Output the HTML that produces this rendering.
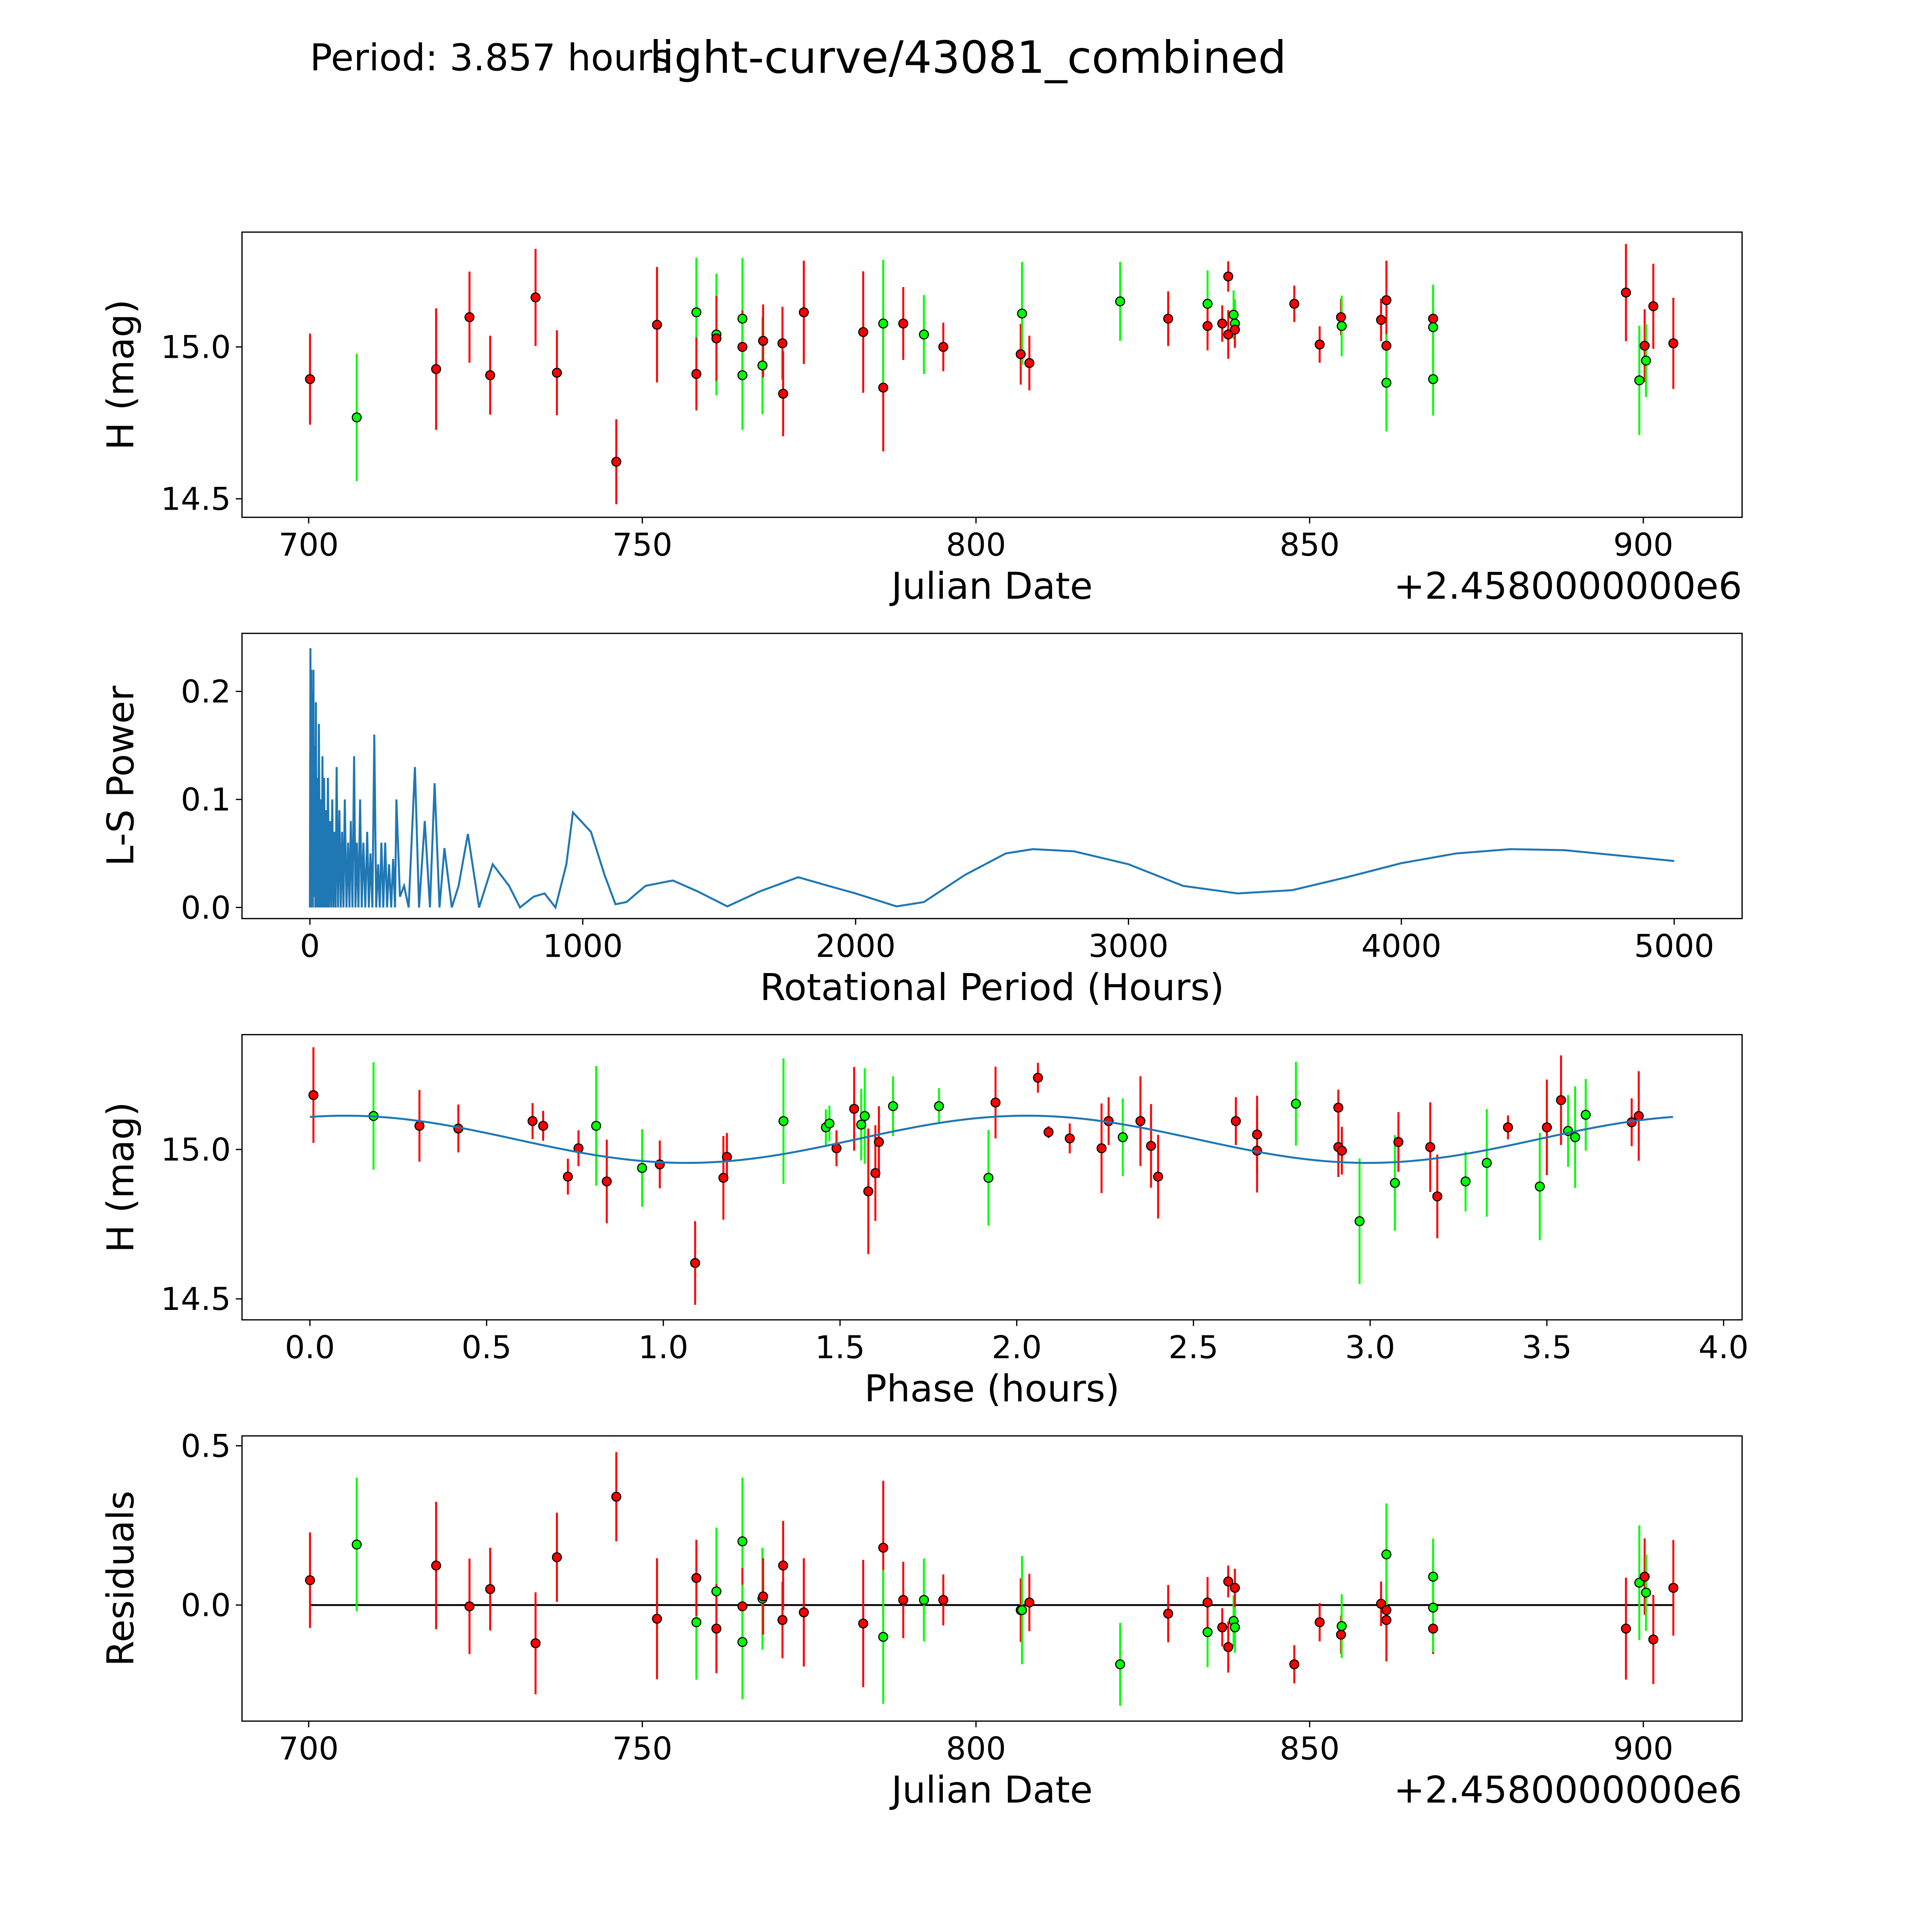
<!DOCTYPE html>
<html><head><meta charset="utf-8"><style>
html,body{margin:0;padding:0;background:#fff;overflow:hidden;width:5400px;height:5400px}
svg{display:block}
text{font-family:"DejaVu Sans","Liberation Sans",sans-serif;fill:#000}
</style></head><body>
<svg id="fig" xmlns="http://www.w3.org/2000/svg" width="5400" height="5400" viewBox="0 0 1690 1690">
<rect width="1690" height="1690" fill="#fff"/>
<text x="251" y="57" font-size="30">Period: 3.857 hours</text>
<text x="784" y="59" font-size="36" text-anchor="middle">light-curve/43081_combined</text>
</svg>
<script>
// ---- Panel 1 / 4 data (Julian date offset from 2458000) ----
const dates=[700.2,707.2,719.1,724.1,727.2,734.0,737.2,746.1,752.2,758.1,758.1,761.1,761.1,765.0,765.0,765.0,768.0,768.1,771.0,771.1,774.2,783.1,786.1,786.1,789.1,792.2,795.1,806.7,806.9,808.0,821.6,828.8,834.7,834.7,836.9,837.8,837.8,838.6,838.8,838.8,847.7,851.5,854.7,854.8,860.7,861.5,861.5,861.5,868.5,868.5,868.5,897.4,899.4,900.2,900.4,901.5,904.5];
const mags=[14.894,14.768,14.927,15.098,14.907,15.163,14.915,14.622,15.073,15.114,14.911,15.041,15.028,15.093,15.0,14.907,14.939,15.02,15.012,14.846,15.114,15.049,14.866,15.077,15.077,15.041,15.0,14.976,15.11,14.947,15.15,15.093,15.142,15.069,15.077,15.232,15.041,15.106,15.077,15.057,15.142,15.008,15.098,15.069,15.089,15.154,15.004,14.882,15.093,15.065,14.894,15.179,14.89,15.004,14.955,15.134,15.012];
const errs=[0.15,0.21,0.2,0.15,0.13,0.16,0.14,0.14,0.19,0.18,0.12,0.2,0.14,0.2,0.12,0.18,0.16,0.12,0.12,0.14,0.17,0.2,0.21,0.21,0.12,0.13,0.08,0.1,0.17,0.09,0.13,0.09,0.11,0.08,0.06,0.05,0.08,0.08,0.08,0.06,0.06,0.06,0.06,0.1,0.07,0.13,0.08,0.16,0.08,0.14,0.12,0.16,0.18,0.12,0.12,0.14,0.15];
const colors=["r","g","r","r","r","r","r","r","r","g","r","g","r","g","r","g","g","r","r","r","r","r","r","g","r","g","r","r","g","r","g","r","g","r","r","r","r","g","g","r","r","r","r","g","r","r","r","g","r","g","g","r","g","r","g","r","r"];
const residuals=[0.078,0.19,0.124,-0.004,0.05,-0.12,0.15,0.34,-0.043,-0.054,0.085,0.043,-0.074,0.2,-0.004,-0.116,0.02,0.027,-0.047,0.124,-0.023,-0.058,0.18,-0.1,0.016,0.016,0.016,-0.016,-0.016,0.008,-0.186,-0.027,-0.085,0.008,-0.07,0.074,-0.132,-0.05,-0.07,0.054,-0.186,-0.054,-0.093,-0.066,0.004,-0.047,-0.016,0.159,-0.074,-0.008,0.089,-0.074,0.07,0.089,0.039,-0.108,0.054];
// ---- Panel 3 (phased) ----
const phases=[0.01,0.18,0.31,0.42,0.63,0.66,0.73,0.76,0.81,0.84,0.94,0.99,1.09,1.17,1.18,1.34,1.46,1.47,1.49,1.54,1.56,1.57,1.58,1.60,1.61,1.65,1.78,1.92,1.94,2.06,2.09,2.15,2.24,2.26,2.30,2.35,2.38,2.40,2.62,2.68,2.68,2.79,2.91,2.91,2.92,2.97,3.07,3.08,3.17,3.19,3.27,3.33,3.39,3.48,3.50,3.54,3.56,3.58,3.61,3.74,3.76];
const phaseMags=[15.182,15.112,15.079,15.07,15.095,15.079,14.909,15.004,15.079,14.893,14.938,14.95,14.62,14.905,14.975,15.095,15.074,15.087,15.004,15.136,15.083,15.112,14.86,14.921,15.025,15.145,15.145,14.905,15.157,15.24,15.058,15.037,15.004,15.095,15.041,15.095,15.012,14.909,15.095,15.05,14.996,15.153,15.14,15.008,14.996,14.76,14.888,15.025,15.008,14.843,14.893,14.955,15.074,14.876,15.074,15.165,15.062,15.041,15.116,15.091,15.112];
const phaseErrs=[0.16,0.18,0.12,0.08,0.06,0.05,0.06,0.06,0.2,0.14,0.13,0.08,0.14,0.14,0.08,0.21,0.06,0.06,0.06,0.14,0.12,0.16,0.21,0.16,0.12,0.1,0.06,0.16,0.12,0.05,0.02,0.05,0.15,0.08,0.13,0.15,0.14,0.14,0.08,0.13,0.14,0.14,0.06,0.1,0.08,0.21,0.16,0.1,0.15,0.14,0.1,0.18,0.04,0.18,0.16,0.15,0.12,0.17,0.12,0.08,0.15];
const phaseColors=["r","g","r","r","r","r","r","r","g","r","g","r","r","r","r","g","g","g","r","r","g","g","r","r","r","g","g","g","r","r","r","r","r","r","g","r","r","r","r","r","r","g","r","r","r","g","g","r","r","r","g","g","r","g","r","r","g","g","g","r","r"];
// ---- Panel 2 (periodogram) ----
const lsPeriods=[0,2,3.5,5,7,9,11,13,15.5,18,20,22,25,28,30.5,33,36.5,40,43,46,49,52,56,60,63,66,70,74,78,82,86,90,94,98,103,108,113,118,123,128,134,140,145,150,156,162,167,172,178,184,190,196,203,210,216,222,229,236,243,250,256,262,269,276,283,290,298,305,312,317,330,345,362,385,400,421,440,457,475,493,520,545,579,620,670,730,770,820,860,900,940,964,1030,1080,1120,1160,1230,1330,1420,1530,1650,1790,1900,2000,2150,2250,2400,2550,2650,2800,3000,3200,3400,3600,3800,4000,4200,4400,4600,4800,5000];
const lsPowers=[0,0.24,0,0.22,0.01,0.2,0,0.22,0.01,0.15,0,0.19,0,0.12,0,0.17,0,0.1,0,0.14,0,0.12,0,0.09,0,0.12,0,0.08,0,0.1,0,0.07,0,0.13,0,0.09,0,0.07,0,0.1,0,0.06,0,0.08,0,0.14,0,0.06,0,0.1,0,0.06,0,0.07,0,0.05,0,0.16,0,0.04,0,0.06,0,0.06,0,0.04,0,0.045,0,0.1,0.01,0.02,0,0.13,0,0.08,0,0.115,0,0.055,0,0.02,0.068,0,0.04,0.02,0,0.01,0.013,0,0.04,0.088,0.07,0.03,0.003,0.005,0.02,0.025,0.015,0.001,0.015,0.028,0.02,0.013,0.001,0.005,0.03,0.05,0.054,0.052,0.04,0.02,0.013,0.016,0.028,0.041,0.05,0.054,0.053,0.048,0.043];
// model params
const modelMean=[15.034], modelAmp=[0.079], modelPeak=[0.1], modelPer=[1.9285], phaseMax=[3.857];

const svg=document.getElementById('fig');
const NS='http://www.w3.org/2000/svg';
function mk(tag,attrs,parent){const e=document.createElementNS(NS,tag);for(const k in attrs)e.setAttribute(k,attrs[k]);(parent||svg).appendChild(e);return e;}
const COL={r:'#ff0000',g:'#00ff00'};

function axes(name,L,T,R,B,xs,ys,xticks,yticks,xfmt,yfmt,xlabel,ylabel,offset){
  const g=mk('g',{});
  
  
  const fr=mk('rect',{x:L,y:T,width:R-L,height:B-T,fill:'none',stroke:'#000','stroke-width':1},g);
  
  
  xticks.forEach(v=>{const x=xs(v);mk('line',{x1:x,x2:x,y1:B,y2:B+5,stroke:'#000','stroke-width':1},g);
    const t=mk('text',{x:x,y:B+31,'font-size':25.5,'text-anchor':'middle'},g);t.textContent=xfmt(v);
    
    });
  yticks.forEach(v=>{const y=ys(v);mk('line',{x1:L-5,x2:L,y1:y,y2:y,stroke:'#000','stroke-width':1},g);
    const t=mk('text',{x:L-9,y:y+9,'font-size':25.5,'text-anchor':'end'},g);t.textContent=yfmt(v);
    
    });
  const xl=mk('text',{x:(L+R)/2,y:B+66,'font-size':30,'text-anchor':'middle'},g);xl.textContent=xlabel;
  
  
  const yl=mk('text',{x:0,y:0,'font-size':30,'text-anchor':'middle',transform:`translate(${L-88},${(T+B)/2}) rotate(-90)`},g);yl.textContent=ylabel;
  
  
  if(offset){const o=mk('text',{x:R,y:B+66,'font-size':30,'text-anchor':'end'},g);o.textContent=offset;
    
    }
  return g;
}
function errpts(g,xsArr,ysArr,es,cs,xs,ys,prefix){
  xsArr.forEach((xv,i)=>{const x=xs(xv);
    const l=mk('line',{x1:x,x2:x,y1:ys(ysArr[i]-es[i]),y2:ys(ysArr[i]+es[i]),stroke:COL[cs[i]],'stroke-width':1.6},g);
    
    });
  xsArr.forEach((xv,i)=>{
    const c=mk('circle',{cx:xs(xv),cy:ys(ysArr[i]),r:3.6,fill:COL[cs[i]],stroke:'#000','stroke-width':0.9},g);
    
    });
}
const fmt1=v=>v.toFixed(1), fmt0=v=>String(v);
const jdX=v=>250+(v-700)*1081/200;

// Panel 1
{const ys=v=>281-(v-15)*246;
 const g=axes('light-curve-panel',196,188,1411,419,jdX,ys,[700,750,800,850,900],[14.5,15.0],fmt0,fmt1,'Julian Date','H (mag)','+2.4580000000e6');
 errpts(g,dates,mags,errs,colors,jdX,ys,'lc');}
// Panel 2
{const xs=v=>251+v*1105/5000, ys=v=>735-v*875;
 const g=axes('periodogram-panel',196,513,1411,744,xs,ys,[0,1000,2000,3000,4000,5000],[0,0.1,0.2],fmt0,fmt1,'Rotational Period (Hours)','L-S Power');
 const d=lsPeriods.map((p,i)=>(i?'L':'M')+xs(p).toFixed(2)+','+ys(lsPowers[i]).toFixed(2)).join(' ');
 const p=mk('path',{d:d,fill:'none',stroke:'#1f77b4','stroke-width':1.6},g);
 
 }
// Panel 3
{const xs=v=>251+v*286.25, ys=v=>931-(v-15)*242;
 const g=axes('phased-panel',196,838,1411,1069,xs,ys,[0,0.5,1,1.5,2,2.5,3,3.5,4],[14.5,15.0],fmt1,fmt1,'Phase (hours)','H (mag)');
 errpts(g,phases,phaseMags,phaseErrs,phaseColors,xs,ys,'phase');
 let d='';for(let i=0;i<=300;i++){const ph=phaseMax[0]*i/300;const m=modelMean[0]+modelAmp[0]*Math.cos(2*Math.PI*(ph-modelPeak[0])/modelPer[0]);d+=(i?'L':'M')+xs(ph).toFixed(2)+','+ys(m).toFixed(2);}
 const p=mk('path',{d:d,fill:'none',stroke:'#1f77b4','stroke-width':1.6},g);
 
 }
// Panel 4
{const ys=v=>1300-v*258;
 const g=axes('residuals-panel',196,1163,1411,1394,jdX,ys,[700,750,800,850,900],[0,0.5],fmt0,fmt1,'Julian Date','Residuals','+2.4580000000e6');
 const zl=mk('line',{x1:jdX(dates[0]),x2:jdX(dates[dates.length-1]),y1:ys(0),y2:ys(0),stroke:'#000','stroke-width':1.5},g);
 
 
 errpts(g,dates,residuals,errs,colors,jdX,ys,'resid');}
</script>
</body></html>
